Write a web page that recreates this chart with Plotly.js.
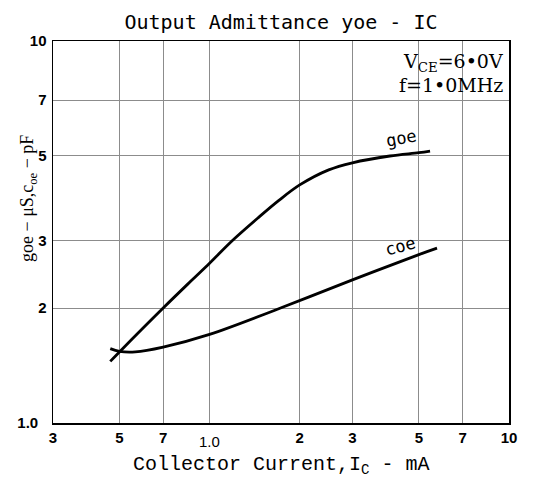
<!DOCTYPE html>
<html>
<head>
<meta charset="utf-8">
<script src="https://cdn.plot.ly/plotly-3.0.1.min.js"></script>
<style>html,body{margin:0;padding:0;background:#fff;}#chart{width:539px;height:478px;}</style>
</head>
<body>
<div id="chart"></div>
<script>
// Collector current (mA) and goe (µS) / coe (pF)
var goeX = [0.466, 0.5, 0.7, 0.87, 1.0, 1.19, 1.45, 1.7, 2.0, 2.5, 3.0, 4.0, 5.0, 5.45];
var goeY = [1.45, 1.535, 2.0, 2.36, 2.62, 3.0, 3.44, 3.82, 4.20, 4.60, 4.80, 5.0, 5.10, 5.15];
var coeX = [0.466, 0.5, 0.565, 0.7, 1.0, 1.726, 3.0, 5.0, 5.75];
var coeY = [1.566, 1.54, 1.535, 1.58, 1.706, 2.0, 2.37, 2.76, 2.87];
var xTickVals = [0.3, 0.5, 0.7, 1.0, 2, 3, 5, 7, 10];
var xTickText = ["3", "5", "7", "\u00a0", "2", "3", "5", "7", "10"];
var yTickVals = [1, 2, 3, 5, 7, 10];
var yTickText = ["1.0\u00a0\u00a0", "2", "3", "5", "7", "10"];

var lineStyle = {color: "#000", width: 2.8, shape: "spline", smoothing: 1};
var traces = [
  {x: goeX, y: goeY, mode: "lines", line: lineStyle, name: "goe", hoverinfo: "x+y"},
  {x: coeX, y: coeY, mode: "lines", line: lineStyle, name: "coe", hoverinfo: "x+y"}
];

var layout = {
  width: 539, height: 478,
  margin: {l: 53, r: 30, t: 41, b: 55},
  paper_bgcolor: "#fff", plot_bgcolor: "#fff",
  showlegend: false,
  title: {text: "Output Admittance yoe - IC", font: {family: "DejaVu Sans Mono", size: 20, color: "#000"},
          x: 0.5, xref: "paper", xanchor: "center", y: 1 - 22/478, yref: "container", yanchor: "middle"},
  xaxis: {type: "log", range: [Math.log10(0.3), 1], tickmode: "array", tickvals: xTickVals, ticktext: xTickText,
          showgrid: true, gridcolor: "#8c8c8c", gridwidth: 1, zeroline: false,
          showline: true, linecolor: "#000", linewidth: 1.5, mirror: true, ticks: "",
          tickfont: {family: "Liberation Sans", size: 15, color: "#000", weight: "bold"}, ticklabelstandoff: 0},
  yaxis: {type: "log", range: [0, 1], tickmode: "array", tickvals: yTickVals, ticktext: yTickText,
          showgrid: true, gridcolor: "#8c8c8c", gridwidth: 1, zeroline: false,
          showline: true, linecolor: "#000", linewidth: 1.5, mirror: true, ticks: "",
          tickfont: {family: "Liberation Sans", size: 15, color: "#000", weight: "bold"}, ticklabelstandoff: 2},
  annotations: [
    {text: "1.0", x: 0, xref: "x", y: 0, yref: "paper", yshift: -18, yanchor: "middle", showarrow: false,
     font: {family: "Liberation Sans", size: 15, color: "#000"}},
    {text: "Collector Current,I<sub>C</sub> - mA", x: 0.5, xref: "paper", xanchor: "center", y: 0, yref: "paper", yshift: -42,
     yanchor: "middle", showarrow: false, font: {family: "Liberation Mono", size: 20, color: "#000"}},
    {text: "goe \u2212 \u03bcS,c<sub>oe</sub> \u2212 pF", x: 0, xref: "paper", xanchor: "center", xshift: -25,
     y: (423-199)/382, yref: "paper", yanchor: "middle",
     textangle: -90, showarrow: false, font: {family: "Liberation Serif", size: 18, color: "#000"}},
    {text: "V<sub>CE</sub>=6\u20220V", x: 1, xref: "paper", xanchor: "right", xshift: -4, y: 1, yref: "paper",
     yshift: -21, yanchor: "middle", showarrow: false, font: {family: "DejaVu Serif", size: 19, color: "#000"}},
    {text: "f=1\u20220MHz", x: 1, xref: "paper", xanchor: "right", xshift: -4, y: 1, yref: "paper",
     yshift: -44, yanchor: "middle", showarrow: false, font: {family: "DejaVu Serif", size: 19, color: "#000"}},
    {text: "goe", x: Math.log10(4.38), y: Math.log10(5.56), xref: "x", yref: "y", textangle: -10, showarrow: false,
     font: {family: "DejaVu Sans Mono", size: 17, color: "#000"}},
    {text: "coe", x: Math.log10(4.34), y: Math.log10(2.9), xref: "x", yref: "y", textangle: -15, showarrow: false,
     font: {family: "DejaVu Sans Mono", size: 17, color: "#000"}}
  ]
};
Plotly.newPlot("chart", traces, layout, {displayModeBar: false, staticPlot: true});
</script>
</body>
</html>
